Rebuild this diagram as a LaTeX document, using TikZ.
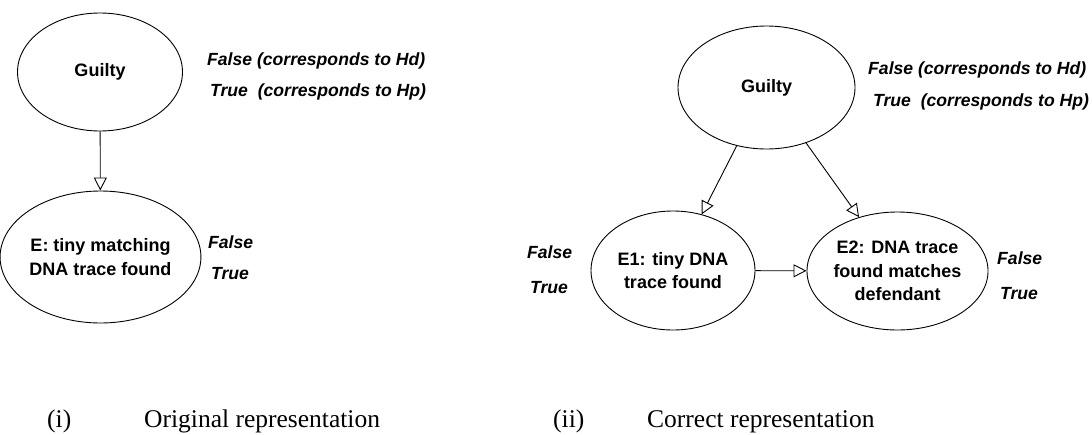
\documentclass[tikz,border=0pt]{standalone}
\usepackage{fontspec}
\usetikzlibrary{shapes.geometric,arrows.meta}
\newfontfamily\arialfont{Liberation Sans}
\newfontfamily\timesfont{Liberation Serif}
\tikzset{
  bnode/.style={ellipse, draw=black, line width=0.9pt, inner sep=0pt, align=center,
    font=\arialfont\bfseries\fontsize{18}{23.5}\selectfont},
  statelbl/.style={anchor=west, inner sep=0pt, text height=12.6pt, text depth=0pt,
    font=\arialfont\bfseries\itshape\fontsize{17.6}{21}\selectfont},
  caption/.style={anchor=base west, inner sep=0pt,
    font=\timesfont\fontsize{25.5}{30}\selectfont},
  link/.style={draw=black, line width=0.9pt,
    -{Triangle[open, length=13pt, width=13pt, line width=0.9pt]}}
}
\begin{document}
\begin{tikzpicture}[x=1pt,y=-1pt]
\useasboundingbox (0,0) rectangle (1092,434);
% (i) original
\node[bnode, minimum width=165pt, minimum height=118pt] (gA) at (100,72) {Guilty};
\node[bnode, minimum width=181pt, minimum height=132pt] (eA) at (100.5,257) {E: tiny matching\\DNA trace found};
\draw[link] (gA) -- (eA);
\node[statelbl] (gAf) at (207,59) {False (corresponds to Hd)};
\node[statelbl] (gAt) at (210,90) {True\ \ (corresponds to Hp)};
\node[statelbl] (eAf) at (208,242) {False};
\node[statelbl] (eAt) at (211,273) {True};
% (ii) correct
\node[bnode, minimum width=177pt, minimum height=123pt] (gB) at (766.5,87.5) {Guilty};
\node[bnode, minimum width=164pt, minimum height=119pt] (e1) at (673,270.5) {E1: tiny DNA\\trace found};
\node[bnode, minimum width=165pt, minimum height=118pt] (e2) at (897.5,271) {E2: DNA trace\\found matches\\defendant};
\draw[link] (gB) -- (e1);
\draw[link] (gB) -- (e2);
\draw[link] (e1) -- (e2);
\node[statelbl] (gBf) at (868,68) {False (corresponds to Hd)};
\node[statelbl] (gBt) at (873,100) {True\ \ (corresponds to Hp)};
\node[statelbl] (e1f) at (527,252) {False};
\node[statelbl] (e1t) at (530,287) {True};
\node[statelbl] (e2f) at (997,258) {False};
\node[statelbl] (e2t) at (1000,293) {True};
% captions
\node[caption] (c1n) at (47,427.5) {(i)};
\node[caption] (c1t) at (144,427.5) {Original representation};
\node[caption] (c2n) at (553,427.5) {(ii)};
\node[caption] (c2t) at (647,427.5) {Correct representation};
\end{tikzpicture}
\end{document}
